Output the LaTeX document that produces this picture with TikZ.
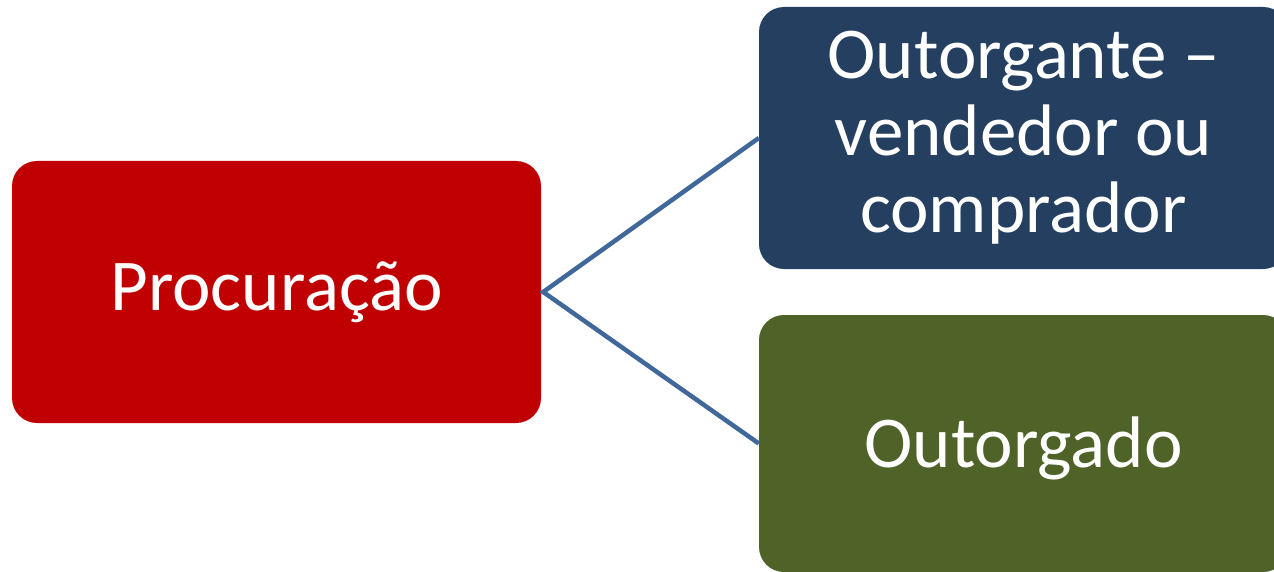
\documentclass[tikz,border=0pt]{standalone}
\usepackage{fontspec}
\setmainfont{Carlito}
\definecolor{boxred}{HTML}{C00000}
\definecolor{boxblue}{HTML}{243F60}
\definecolor{boxgreen}{HTML}{4F6228}
\definecolor{linkblue}{HTML}{41689A}
\begin{document}
\begin{tikzpicture}[x=1pt,y=-1pt,
  card/.style={rounded corners=25pt, minimum width=529pt, minimum height=262pt,
    inner sep=0pt, text=white, align=center,
    font=\fontsize{73}{77}\selectfont},
  link/.style={draw=linkblue, line width=4.5pt}]
  \fill[white] (0,0) rectangle (1274,572);
  \useasboundingbox (0,0) rectangle (1274,572);
  % left box
  \node[card, fill=boxred] (proc) at (276.5,292) {Procuração};
  % right boxes
  \node[card, fill=boxblue] (grante) at (1023.5,138) {Outorgante –\\vendedor ou\\comprador};
  \node[card, fill=boxgreen, minimum height=257pt, text height=51pt, text depth=4pt]
    (grado) at (1023.5,443.5) {Outorgado};
  % connectors
  \coordinate (hub) at ([xshift=2pt]proc.east);
  \draw[link] (grante.west) -- (hub) -- (grado.west);
\end{tikzpicture}
\end{document}
